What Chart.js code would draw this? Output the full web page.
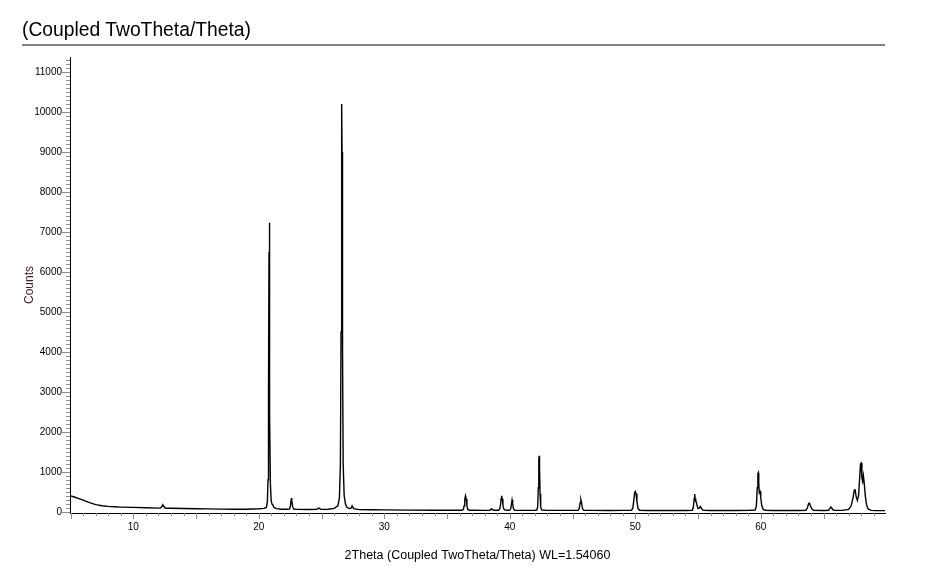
<!DOCTYPE html>
<html>
<head>
<meta charset="utf-8">
<script src="https://cdn.jsdelivr.net/npm/chart.js@4.4.1/dist/chart.umd.min.js"></script>
<style>
body { margin: 0; background: #fff; }
#wrap { position: relative; width: 926px; height: 575px; }
#title { position: absolute; left: 22px; top: 20px; font-family: "Liberation Sans", Arial, sans-serif; font-size: 19.3px; line-height: 19px; color: #000; white-space: nowrap; }
#rule { position: absolute; left: 22px; top: 44px; width: 863px; height: 2px; background: #808080; }
canvas { position: absolute; left: 0; top: 0; }
</style>
</head>
<body>
<div id="wrap">
    <canvas id="xrdChart" width="926" height="575"></canvas>
    <div id="title">(Coupled TwoTheta/Theta)</div>
    <div id="rule"></div>
</div>
<script>
// diffractogram, 2theta in degrees, intensity in counts
const twoTheta = [
    5.0, 5.3, 5.6, 6.0, 6.5, 7.0, 7.5, 8.0, 8.5, 9.0, 10.0, 11.0, 12.0,
    12.15, 12.27, 12.35, 12.43, 12.55,
    13.0, 14.0, 15.0, 16.0, 17.0, 18.0, 19.0, 19.5, 20.0, 20.4,
    20.6, 20.68, 20.73, 20.77, 20.81, 20.83, 20.85, 20.88, 20.92, 20.98, 21.05, 21.12, 21.2,
    21.4, 21.8, 22.3,
    22.45, 22.52, 22.57, 22.6, 22.64, 22.69, 22.78,
    23.0, 24.0, 24.6, 24.78, 24.95, 25.5, 26.0,
    26.3, 26.42, 26.5, 26.55, 26.59, 26.61, 26.63, 26.67, 26.72, 26.8, 26.9, 27.0,
    27.2, 27.35, 27.43, 27.55, 28.0, 29.0, 30.0, 32.0, 34.0, 35.0, 36.0,
    36.2, 36.3, 36.36, 36.41, 36.47, 36.53, 36.58, 36.64, 36.75,
    37.0, 38.0, 38.4, 38.5, 38.54, 38.6, 38.7, 39.0,
    39.1, 39.2, 39.26, 39.3, 39.35, 39.4, 39.45, 39.52, 39.62,
    39.85, 40.0, 40.08, 40.13, 40.18, 40.23, 40.29, 40.4,
    41.0, 42.0, 42.15, 42.22, 42.27, 42.31, 42.34, 42.37, 42.41, 42.46, 42.55,
    43.0, 44.0, 45.0, 45.45, 45.53, 45.6, 45.66, 45.72, 45.79, 45.9,
    46.5, 48.0, 49.0, 49.7, 49.8, 49.88, 49.95, 50.0, 50.06, 50.13, 50.22, 50.35,
    51.0, 52.0, 53.0, 54.0, 54.55, 54.63, 54.69, 54.73, 54.77, 54.82, 54.87, 54.93, 55.0,
    55.1, 55.18, 55.25, 55.35, 55.5, 56.0, 57.0, 58.0, 59.0,
    59.55, 59.65, 59.72, 59.77, 59.8, 59.84, 59.88, 59.94, 60.0, 60.08, 60.2, 60.4,
    61.0, 62.0, 63.0, 63.6, 63.72, 63.8, 63.85, 63.9, 63.96, 64.05, 64.2,
    65.0, 65.4, 65.5, 65.58, 65.65, 65.72, 65.85, 66.5,
    67.0, 67.2, 67.35, 67.45, 67.52, 67.6, 67.7, 67.8, 67.88, 67.95, 68.0, 68.06, 68.12,
    68.18, 68.25, 68.33, 68.43, 68.55, 68.8, 69.2, 69.9
];
const counts = [
    400, 370, 335, 290, 230, 180, 150, 135, 125, 118, 110, 100, 92,
    92, 130, 175, 130, 90,
    88, 82, 78, 72, 68, 65, 65, 70, 75, 85,
    110, 250, 800, 3000, 6500, 7230, 6200, 2500, 700, 280, 190, 170, 110,
    80, 65, 62,
    70, 150, 300, 343, 290, 140, 70,
    60, 58, 60, 93, 60, 65, 85,
    150, 350, 1200, 4500, 9000, 10200, 9000, 4000, 1200, 400, 200, 120,
    80, 90, 150, 80, 55, 50, 48, 42, 40, 38, 38,
    38, 60, 150, 310, 400, 320, 160, 70, 40,
    38, 36, 38, 60, 75, 60, 38, 38,
    40, 70, 170, 320, 400, 320, 170, 70, 42,
    40, 42, 80, 190, 293, 200, 80, 40,
    36, 38, 45, 120, 600, 1300, 1400, 1100, 450, 110, 45,
    36, 35, 35, 38, 80, 220, 300, 220, 80, 38,
    35, 34, 36, 40, 90, 280, 480, 508, 450, 260, 80, 38,
    34, 33, 33, 34, 40, 120, 330, 443, 330, 250, 245, 150, 80,
    90, 133, 100, 50, 36, 33, 33, 33, 35,
    45, 150, 600, 950, 975, 700, 480, 508, 350, 150, 55, 38,
    33, 33, 33, 40, 100, 200, 218, 190, 150, 80, 40,
    33, 38, 80, 118, 100, 60, 36, 35,
    60, 150, 350, 540, 550, 380, 283, 420, 850, 1200, 1218, 850, 760,
    900, 700, 400, 180, 70, 35, 30, 30
];

const xTickValues = [10, 20, 30, 40, 50, 60];
const yTickValues = [0, 1000, 2000, 3000, 4000, 5000, 6000, 7000, 8000, 9000, 10000, 11000];

const axisFont = { family: '"Liberation Sans", Arial, sans-serif', size: 10 };

// small ruler ticks along both axes, like the instrument software draws them
const rulerTicks = {
    id: 'rulerTicks',
    afterDraw(chart) {
        const { ctx, chartArea } = chart;
        const xScale = chart.scales.x;
        const yScale = chart.scales.y;
        ctx.save();
        ctx.strokeStyle = '#8c8c8c';
        ctx.lineWidth = 1;
        ctx.beginPath();
        for (let v = 0; v <= yScale.max; v += 100) {
            const py = Math.round(yScale.getPixelForValue(v)) + 0.5;
            const len = v % 1000 === 0 ? 8 : 4;
            ctx.moveTo(chartArea.left - len, py);
            ctx.lineTo(chartArea.left, py);
        }
        for (let d = Math.ceil(xScale.min); d <= xScale.max; d++) {
            const px = Math.round(xScale.getPixelForValue(d)) + 0.5;
            const len = d % 5 === 0 ? 6 : 3;
            ctx.moveTo(px, chartArea.bottom);
            ctx.lineTo(px, chartArea.bottom + len);
        }
        ctx.stroke();
        ctx.restore();
    }
};

const ctx = document.getElementById('xrdChart').getContext('2d');
const xrdChart = new Chart(ctx, {
    type: 'line',
    data: {
        datasets: [{
            label: 'Counts',
            data: twoTheta.map((t, i) => ({ x: t, y: counts[i] })),
            borderColor: '#000000',
            borderWidth: 1.4,
            pointRadius: 0,
            tension: 0,
            fill: false
        }]
    },
    options: {
        responsive: false,
        animation: false,
        layout: {
            padding: { left: 0, right: 41, top: 57, bottom: 0 }
        },
        plugins: {
            legend: { display: false },
            tooltip: { enabled: false }
        },
        scales: {
            x: {
                type: 'linear',
                min: 4.95,
                max: 69.9,
                afterFit: (scale) => { scale.height = 62; },
                afterBuildTicks: (scale) => { scale.ticks = xTickValues.map(v => ({ value: v })); },
                grid: { display: false, drawTicks: false },
                border: { display: true, color: '#000', width: 1 },
                ticks: {
                    padding: 8,
                    color: '#000',
                    font: axisFont,
                    maxRotation: 0,
                    callback: (v) => v
                },
                title: {
                    display: true,
                    text: '2Theta (Coupled TwoTheta/Theta) WL=1.54060',
                    color: '#000',
                    font: { family: '"Liberation Sans", Arial, sans-serif', size: 12.5 },
                    padding: { top: 0, bottom: 11.5 }
                }
            },
            y: {
                type: 'linear',
                min: -30,
                max: 11375,
                afterFit: (scale) => { scale.width = 70; },
                afterBuildTicks: (scale) => { scale.ticks = yTickValues.map(v => ({ value: v })); },
                grid: { display: false, drawTicks: false },
                border: { display: true, color: '#000', width: 1 },
                ticks: {
                    padding: 8,
                    color: '#000',
                    font: axisFont,
                    callback: (v) => v
                },
                title: {
                    display: true,
                    text: 'Counts',
                    color: '#4a1626',
                    font: { family: '"Liberation Sans", Arial, sans-serif', size: 12 },
                    padding: { top: 22, bottom: 0 }
                }
            }
        }
    },
    plugins: [rulerTicks]
});
</script>
</body>
</html>
